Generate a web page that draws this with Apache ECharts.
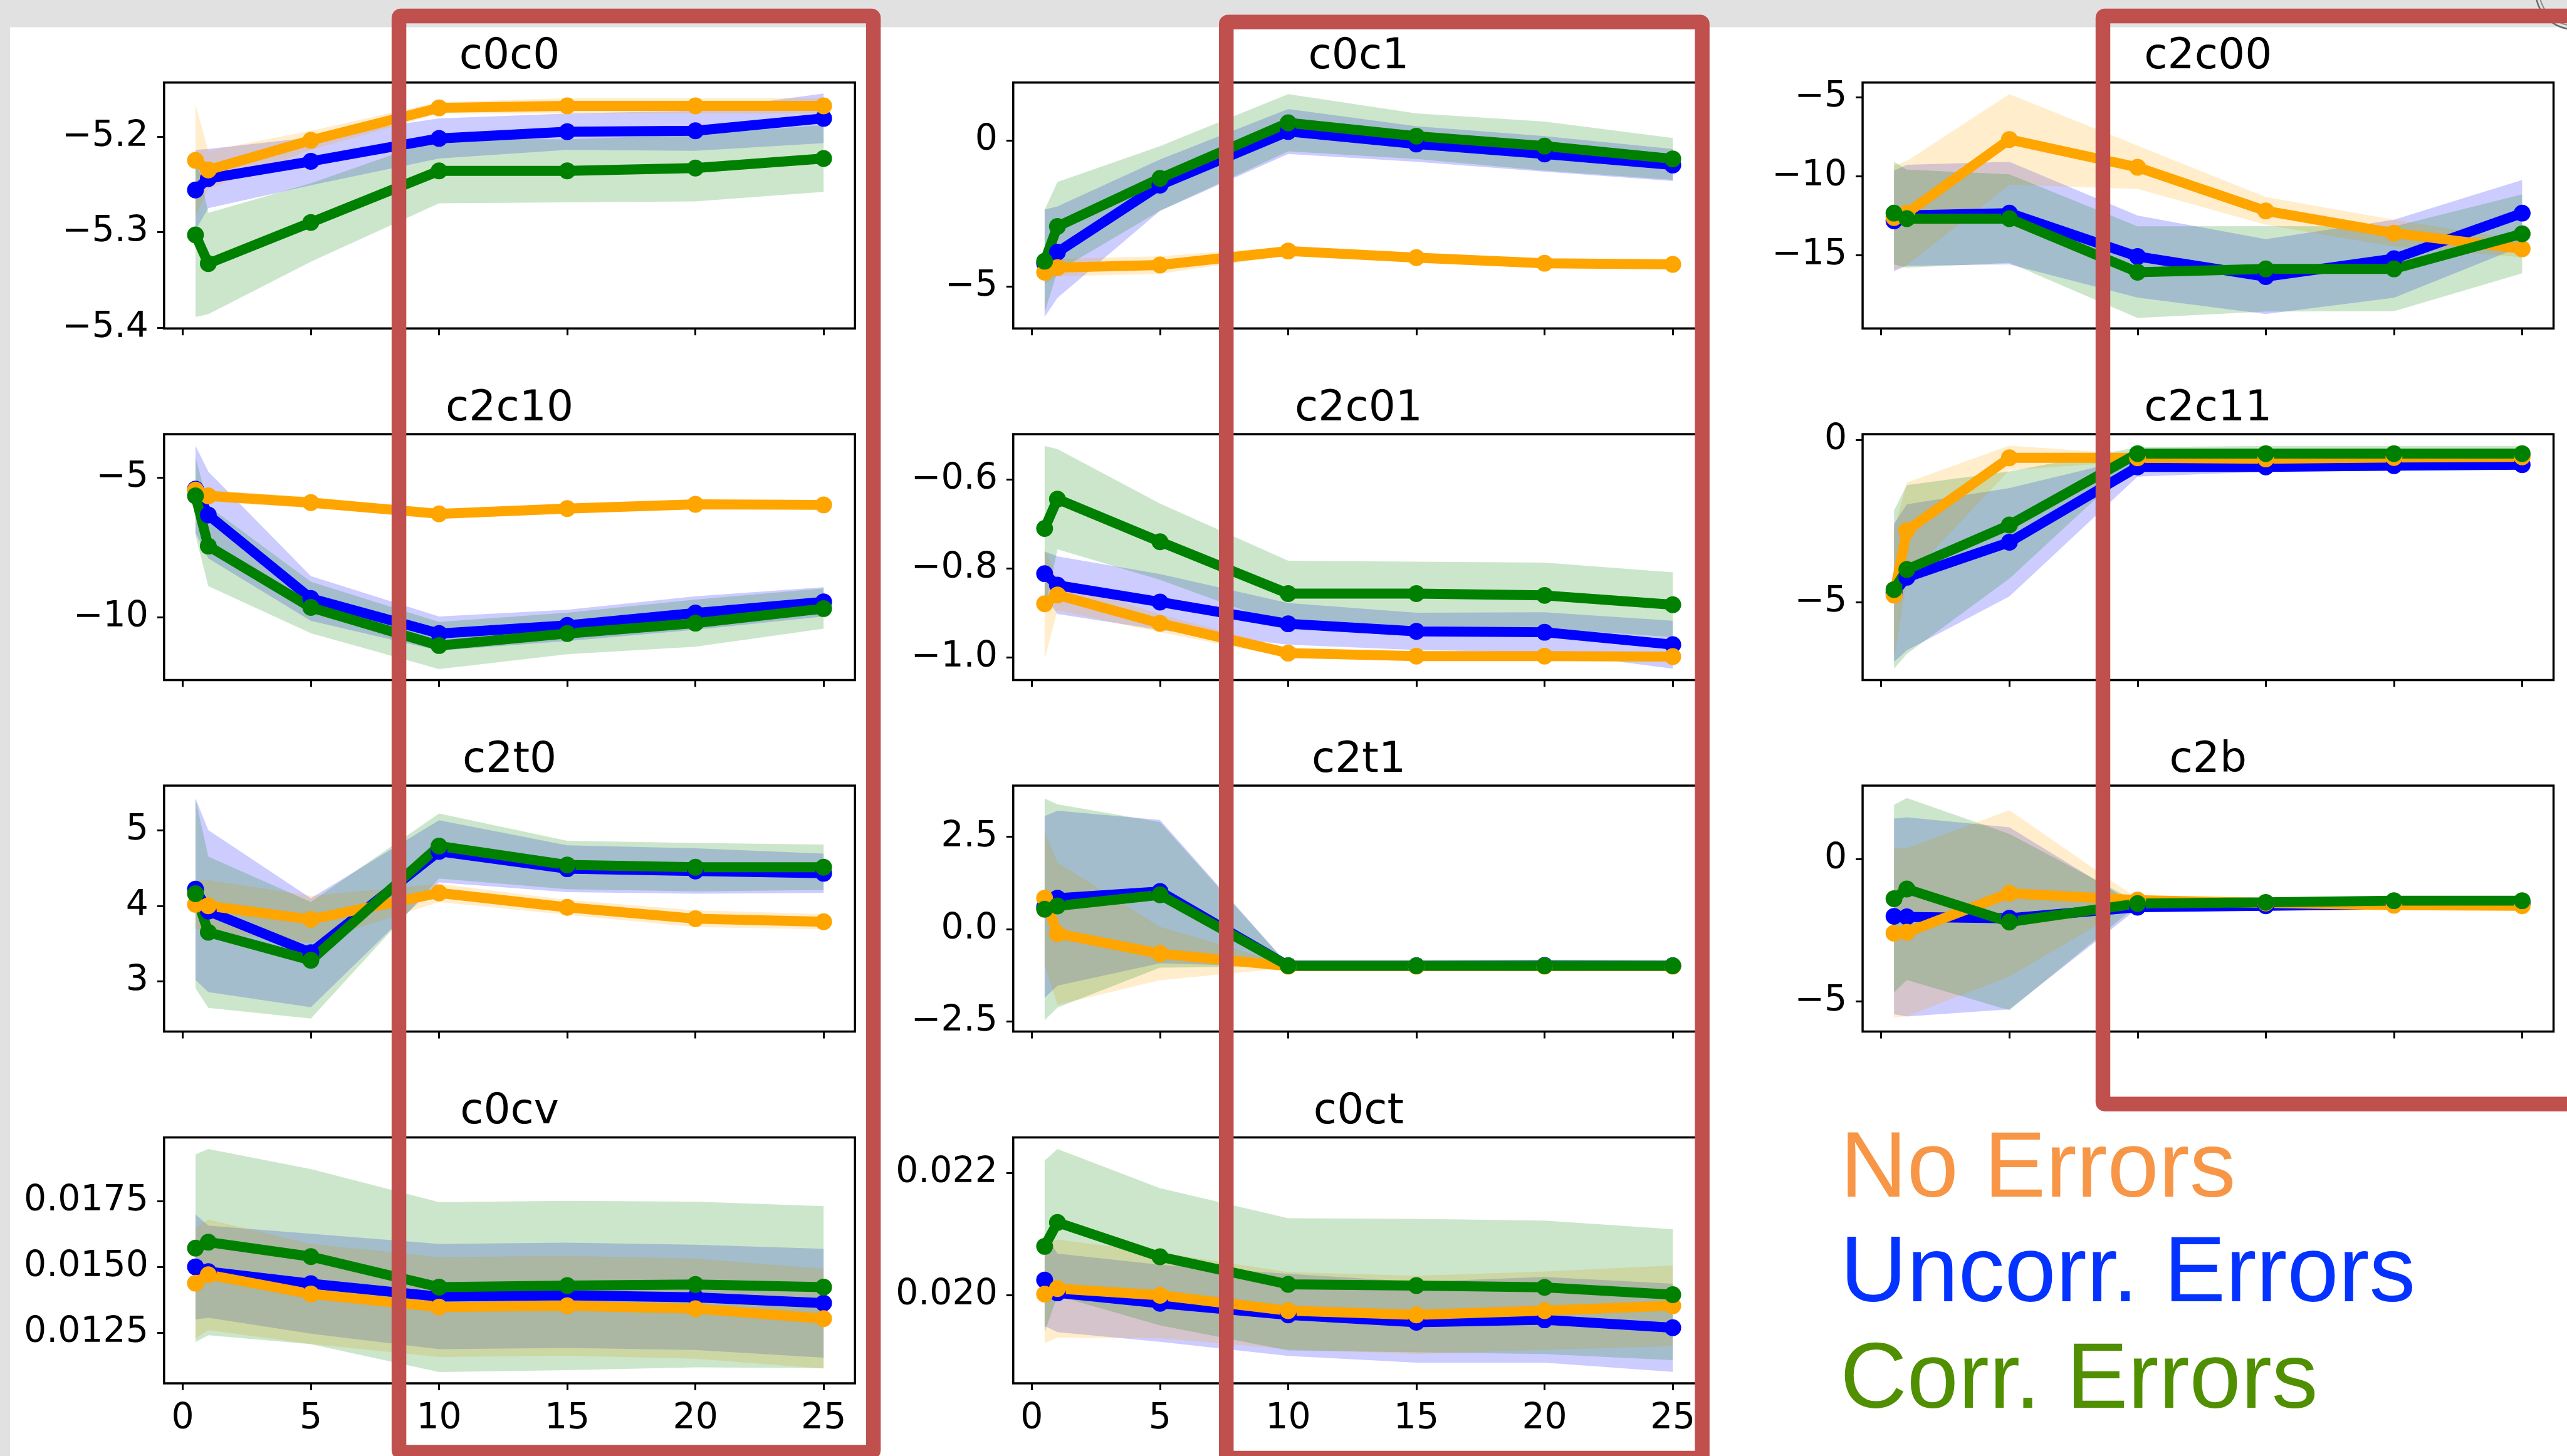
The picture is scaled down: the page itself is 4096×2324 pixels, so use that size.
<!DOCTYPE html>
<html><head><meta charset="utf-8">
<script src="https://cdn.jsdelivr.net/npm/echarts@6/dist/echarts.min.js"></script>
<style>html,body{margin:0;padding:0;background:#fff;overflow:hidden}#c{width:4096px;height:2324px;}</style>
</head><body><div id="c"></div>
<script>
// ---------------- DATA ----------------
const xValues = [0.5, 1, 5, 10, 15, 20, 25];
const xTicks = [0, 5, 10, 15, 20, 25];
const xTickLabels = ['0', '5', '10', '15', '20', '25'];
const seriesNames = ['No Errors', 'Uncorr. Errors', 'Corr. Errors'];

// c0c0
const c0c0_yTicks = [-5.4, -5.3, -5.2];
const c0c0_yLabels = ['\u22125.4', '\u22125.3', '\u22125.2'];
const c0c0_none = [-5.225, -5.235, -5.204, -5.170, -5.168, -5.168, -5.168];
const c0c0_noneErr = [0.058, 0.02, 0.01, 0.006, 0.008, 0.008, 0.008];
const c0c0_unc = [-5.256, -5.244, -5.226, -5.202, -5.195, -5.194, -5.181];
const c0c0_uncErr = [0.042, 0.031, 0.025, 0.021, 0.019, 0.021, 0.026];
const c0c0_cor = [-5.303, -5.333, -5.290, -5.236, -5.236, -5.233, -5.223];
const c0c0_corErr = [0.086, 0.053, 0.041, 0.034, 0.033, 0.035, 0.035];

// c0c1
const c0c1_yTicks = [-5, 0];
const c0c1_yLabels = ['\u22125', '0'];
const c0c1_none = [-4.52, -4.36, -4.27, -3.79, -4.02, -4.21, -4.25];
const c0c1_noneErr = [0.4, 0.3, 0.3, 0.15, 0.1, 0.1, 0.1];
const c0c1_unc = [-4.21, -3.83, -1.53, 0.31, -0.12, -0.46, -0.84];
const c0c1_uncErr = [1.84, 1.57, 0.88, 0.77, 0.61, 0.61, 0.55];
const c0c1_cor = [-4.14, -2.95, -1.30, 0.61, 0.15, -0.19, -0.63];
const c0c1_corErr = [1.76, 1.53, 1.11, 0.98, 0.78, 0.84, 0.72];

// c2c00
const c2c00_yTicks = [-15, -10, -5];
const c2c00_yLabels = ['\u221215', '\u221210', '\u22125'];
const c2c00_none = [-12.6, -12.32, -7.66, -9.42, -12.18, -13.59, -14.58];
const c2c00_noneErr = [3.3, 3.3, 2.87, 1.37, 0.88, 0.85, 0.54];
const c2c00_unc = [-12.81, -12.46, -12.32, -15.07, -16.34, -15.21, -12.32];
const c2c00_uncErr = [3.18, 3.2, 3.25, 2.6, 2.37, 2.47, 2.1];
const c2c00_cor = [-12.32, -12.67, -12.67, -16.06, -15.85, -15.85, -13.63];
const c2c00_corErr = [3.25, 3.1, 2.8, 2.9, 2.7, 2.68, 2.5];

// c2c10
const c2c10_yTicks = [-10, -5];
const c2c10_yLabels = ['\u221210', '\u22125'];
const c2c10_none = [-5.45, -5.66, -5.90, -6.30, -6.11, -5.96, -5.98];
const c2c10_noneErr = [0.25, 0.2, 0.2, 0.1, 0.1, 0.1, 0.1];
const c2c10_unc = [-5.42, -6.34, -9.32, -10.57, -10.28, -9.84, -9.44];
const c2c10_uncErr = [1.55, 1.55, 0.8, 0.61, 0.56, 0.6, 0.52];
const c2c10_cor = [-5.66, -7.45, -9.64, -11.0, -10.57, -10.2, -9.68];
const c2c10_corErr = [1.4, 1.43, 0.92, 0.84, 0.74, 0.84, 0.72];

// c2c01
const c2c01_yTicks = [-1.0, -0.8, -0.6];
const c2c01_yLabels = ['\u22121.0', '\u22120.8', '\u22120.6'];
const c2c01_none = [-0.880, -0.860, -0.924, -0.991, -0.998, -0.998, -0.999];
const c2c01_noneErr = [0.124, 0.035, 0.02, 0.01, 0.01, 0.01, 0.01];
const c2c01_unc = [-0.812, -0.838, -0.876, -0.925, -0.942, -0.944, -0.972];
const c2c01_uncErr = [0.05, 0.065, 0.063, 0.047, 0.042, 0.045, 0.054];
const c2c01_cor = [-0.710, -0.644, -0.740, -0.857, -0.857, -0.861, -0.882];
const c2c01_corErr = [0.186, 0.113, 0.086, 0.074, 0.072, 0.074, 0.073];

// c2c11
const c2c11_yTicks = [-5, 0];
const c2c11_yLabels = ['\u22125', '0'];
const c2c11_none = [-4.79, -2.80, -0.56, -0.56, -0.59, -0.55, -0.53];
const c2c11_noneErr = [2.0, 1.48, 0.38, 0.1, 0.1, 0.1, 0.1];
const c2c11_unc = [-4.72, -4.24, -3.16, -0.84, -0.84, -0.80, -0.77];
const c2c11_uncErr = [2.13, 2.25, 1.67, 0.3, 0.15, 0.15, 0.15];
const c2c11_cor = [-4.62, -4.0, -2.63, -0.43, -0.43, -0.43, -0.43];
const c2c11_corErr = [2.44, 2.6, 1.65, 0.2, 0.24, 0.24, 0.24];

// c2t0
const c2t0_yTicks = [3, 4, 5];
const c2t0_yLabels = ['3', '4', '5'];
const c2t0_none = [4.02, 4.00, 3.82, 4.17, 3.98, 3.83, 3.79];
const c2t0_noneErr = [0.32, 0.34, 0.31, 0.12, 0.1, 0.11, 0.1];
const c2t0_unc = [4.22, 3.93, 3.38, 4.72, 4.49, 4.46, 4.43];
const c2t0_uncErr = [1.2, 1.07, 0.72, 0.41, 0.31, 0.3, 0.26];
const c2t0_cor = [4.16, 3.65, 3.28, 4.79, 4.54, 4.51, 4.51];
const c2t0_corErr = [1.25, 1.0, 0.77, 0.43, 0.32, 0.32, 0.3];

// c2t1
const c2t1_yTicks = [-2.5, 0, 2.5];
const c2t1_yLabels = ['\u22122.5', '0.0', '2.5'];
const c2t1_none = [0.84, -0.12, -0.66, -1.0, -1.0, -1.0, -1.0];
const c2t1_noneErr = [1.8, 1.93, 0.72, 0.05, 0.03, 0.03, 0.03];
const c2t1_unc = [0.60, 0.84, 1.02, -0.99, -0.99, -0.98, -0.99];
const c2t1_uncErr = [2.46, 2.37, 1.94, 0.03, 0.03, 0.03, 0.03];
const c2t1_cor = [0.54, 0.63, 0.93, -0.99, -0.99, -0.99, -0.99];
const c2t1_corErr = [3.0, 2.75, 1.97, 0.02, 0.02, 0.02, 0.02];

// c2b
const c2b_yTicks = [-5, 0];
const c2b_yLabels = ['\u22125', '0'];
const c2b_none = [-2.60, -2.57, -1.20, -1.44, -1.54, -1.62, -1.64];
const c2b_noneErr = [2.97, 2.95, 2.92, 0.05, 0.05, 0.05, 0.05];
const c2b_unc = [-2.01, -2.03, -2.08, -1.69, -1.64, -1.59, -1.56];
const c2b_uncErr = [3.44, 3.5, 3.2, 0.05, 0.05, 0.05, 0.05];
const c2b_cor = [-1.39, -1.05, -2.21, -1.56, -1.52, -1.46, -1.46];
const c2b_corErr = [3.3, 3.2, 3.1, 0.05, 0.05, 0.05, 0.05];

// c0cv
const c0cv_yTicks = [0.0125, 0.0150, 0.0175];
const c0cv_yLabels = ['0.0125', '0.0150', '0.0175'];
const c0cv_none = [0.01438, 0.01470, 0.01397, 0.01347, 0.01352, 0.01341, 0.01303];
const c0cv_noneErr = [0.0021, 0.0021, 0.0019, 0.0019, 0.0019, 0.0019, 0.0019];
const c0cv_unc = [0.01500, 0.01482, 0.01436, 0.01387, 0.01392, 0.01384, 0.01362];
const c0cv_uncErr = [0.0020, 0.00175, 0.0019, 0.0020, 0.0020, 0.0020, 0.00207];
const c0cv_cor = [0.01571, 0.01594, 0.01539, 0.01423, 0.01429, 0.01433, 0.01423];
const c0cv_corErr = [0.00357, 0.00354, 0.00333, 0.00323, 0.00322, 0.00315, 0.00308];

// c0ct
const c0ct_yTicks = [0.020, 0.022];
const c0ct_yLabels = ['0.020', '0.022'];
const c0ct_none = [0.02002, 0.02011, 0.02000, 0.01975, 0.01968, 0.01975, 0.01983];
const c0ct_noneErr = [0.0008, 0.0008, 0.0007, 0.00063, 0.00064, 0.00064, 0.00066];
const c0ct_unc = [0.02025, 0.02004, 0.01987, 0.01968, 0.01956, 0.01960, 0.01947];
const c0ct_uncErr = [0.00075, 0.00064, 0.00063, 0.00067, 0.00066, 0.0007, 0.00072];
const c0ct_cor = [0.02080, 0.02119, 0.02063, 0.02018, 0.02016, 0.02013, 0.02001];
const c0ct_corErr = [0.0014, 0.0012, 0.00112, 0.00108, 0.00109, 0.00109, 0.00107];

// ---------------- LAYOUT (reference pixels) ----------------
const S = 0.997;
const colLeft = [262.6, 1621.6, 2981.0];
const rowTop = [132.1, 695.0, 1257.8, 1821.0];
const PW = 1105.8, PH = 393.7;
const X_MIN = -0.725, X_MAX = 26.225;

const panels = [
  {t:'c0c0', c:0, r:0, ymin:-5.4009, ymax:-5.1435, yt:c0c0_yTicks, yl:c0c0_yLabels, none:c0c0_none, noneErr:c0c0_noneErr, unc:c0c0_unc, uncErr:c0c0_uncErr, cor:c0c0_cor, corErr:c0c0_corErr},
  {t:'c0c1', c:1, r:0, ymin:-6.447, ymax:1.991, yt:c0c1_yTicks, yl:c0c1_yLabels, none:c0c1_none, noneErr:c0c1_noneErr, unc:c0c1_unc, uncErr:c0c1_uncErr, cor:c0c1_cor, corErr:c0c1_corErr},
  {t:'c2c00', c:2, r:0, ymin:-19.62, ymax:-4.054, yt:c2c00_yTicks, yl:c2c00_yLabels, none:c2c00_none, noneErr:c2c00_noneErr, unc:c2c00_unc, uncErr:c2c00_uncErr, cor:c2c00_cor, corErr:c2c00_corErr},
  {t:'c2c10', c:0, r:1, ymin:-12.23, ymax:-3.455, yt:c2c10_yTicks, yl:c2c10_yLabels, none:c2c10_none, noneErr:c2c10_noneErr, unc:c2c10_unc, uncErr:c2c10_uncErr, cor:c2c10_cor, corErr:c2c10_corErr},
  {t:'c2c01', c:1, r:1, ymin:-1.0518, ymax:-0.4974, yt:c2c01_yTicks, yl:c2c01_yLabels, none:c2c01_none, noneErr:c2c01_noneErr, unc:c2c01_unc, uncErr:c2c01_uncErr, cor:c2c01_cor, corErr:c2c01_corErr},
  {t:'c2c11', c:2, r:1, ymin:-7.407, ymax:0.172, yt:c2c11_yTicks, yl:c2c11_yLabels, none:c2c11_none, noneErr:c2c11_noneErr, unc:c2c11_unc, uncErr:c2c11_uncErr, cor:c2c11_cor, corErr:c2c11_corErr},
  {t:'c2t0', c:0, r:2, ymin:2.338, ymax:5.588, yt:c2t0_yTicks, yl:c2t0_yLabels, none:c2t0_none, noneErr:c2t0_noneErr, unc:c2t0_unc, uncErr:c2t0_uncErr, cor:c2t0_cor, corErr:c2t0_corErr},
  {t:'c2t1', c:1, r:2, ymin:-2.771, ymax:3.886, yt:c2t1_yTicks, yl:c2t1_yLabels, none:c2t1_none, noneErr:c2t1_noneErr, unc:c2t1_unc, uncErr:c2t1_uncErr, cor:c2t1_cor, corErr:c2t1_corErr},
  {t:'c2b', c:2, r:2, ymin:-6.061, ymax:2.583, yt:c2b_yTicks, yl:c2b_yLabels, none:c2b_none, noneErr:c2b_noneErr, unc:c2b_unc, uncErr:c2b_uncErr, cor:c2b_cor, corErr:c2b_corErr},
  {t:'c0cv', c:0, r:3, ymin:0.010571, ymax:0.019921, yt:c0cv_yTicks, yl:c0cv_yLabels, none:c0cv_none, noneErr:c0cv_noneErr, unc:c0cv_unc, uncErr:c0cv_uncErr, cor:c0cv_cor, corErr:c0cv_corErr, xl:true},
  {t:'c0ct', c:1, r:3, ymin:0.018562, ymax:0.022579, yt:c0ct_yTicks, yl:c0ct_yLabels, none:c0ct_none, noneErr:c0ct_noneErr, unc:c0ct_unc, uncErr:c0ct_uncErr, cor:c0ct_cor, corErr:c0ct_corErr, xl:true}
];

const LINE = {unc:'#0000ff', none:'#ffa500', cor:'#008000'};
const FILL = {unc:'rgba(0,0,255,0.2)', none:'rgba(255,165,0,0.2)', cor:'rgba(0,128,0,0.2)'};
const TICK_FS = 57, TITLE_FS = 68;
const FONT = '"DejaVu Sans", sans-serif';

const grids = [], xAxes = [], yAxes = [], series = [], graphics = [];

function bandSeries(i, mean, err, fill) {
  const lo = mean.map((m, k) => m - err[k]);
  const hi = mean.map((m, k) => m + err[k]);
  return {
    type: 'custom', xAxisIndex: i, yAxisIndex: i, z: 1, silent: true, animation: false,
    data: xValues.map((x, k) => [x, lo[k], hi[k]]),
    encode: {x: 0, y: [1, 2]},
    renderItem: function (params, api) {
      if (params.dataIndex !== 0) return null;
      const pts = [];
      for (let k = 0; k < xValues.length; k++) pts.push(api.coord([xValues[k], hi[k]]));
      for (let k = xValues.length - 1; k >= 0; k--) pts.push(api.coord([xValues[k], lo[k]]));
      return {type: 'polygon', shape: {points: pts}, style: {fill: fill, stroke: null}};
    }
  };
}
function lineSeries(i, name, vals, color) {
  return {
    type: 'line', name: name, xAxisIndex: i, yAxisIndex: i, z: 2, silent: true, animation: false,
    data: xValues.map((x, k) => [x, vals[k]]),
    symbol: 'circle', symbolSize: 27 * S, showSymbol: true, showAllSymbol: true,
    lineStyle: {color: color, width: 16 * S},
    itemStyle: {color: color, borderWidth: 0},
    emphasis: {disabled: true}, clip: false
  };
}

panels.forEach((p, i) => {
  const left = colLeft[p.c] * S, top = rowTop[p.r] * S;
  grids.push({left: left, top: top, width: PW * S, height: PH * S, show: true,
    borderColor: '#000', borderWidth: 3.5 * S, backgroundColor: 'transparent',
    containLabel: false, outerBoundsMode: 'none'});
  xAxes.push({type: 'value', gridIndex: i, min: X_MIN, max: X_MAX, position: 'bottom',
    axisLine: {show: false, onZero: false}, splitLine: {show: false},
    axisTick: {show: true, customValues: xTicks, length: 11 * S, lineStyle: {color: '#000', width: 3 * S}},
    axisLabel: {show: !!p.xl, customValues: xTicks, margin: 29 * S,
      formatter: v => { const k = xTicks.findIndex(t => Math.abs(t - v) < 1e-9); return k >= 0 ? xTickLabels[k] : ''; },
      fontFamily: FONT, fontSize: TICK_FS * S, color: '#000'}});
  yAxes.push({type: 'value', gridIndex: i, min: p.ymin, max: p.ymax, position: 'left',
    axisLine: {show: false, onZero: false}, splitLine: {show: false},
    axisTick: {show: true, customValues: p.yt, length: 11 * S, lineStyle: {color: '#000', width: 3 * S}},
    axisLabel: {show: true, customValues: p.yt, margin: 25 * S, padding: [10 * S, 0, 0, 0],
      formatter: v => { const k = p.yt.findIndex(t => Math.abs(t - v) < 1e-9); return k >= 0 ? p.yl[k] : ''; },
      fontFamily: FONT, fontSize: TICK_FS * S, color: '#000'}});
  series.push(bandSeries(i, p.unc, p.uncErr, FILL.unc));
  series.push(bandSeries(i, p.none, p.noneErr, FILL.none));
  series.push(bandSeries(i, p.cor, p.corErr, FILL.cor));
  series.push(lineSeries(i, seriesNames[1], p.unc, LINE.unc));
  series.push(lineSeries(i, seriesNames[0], p.none, LINE.none));
  series.push(lineSeries(i, seriesNames[2], p.cor, LINE.cor));
  graphics.push({type: 'text', z: 50, silent: true,
    x: (colLeft[p.c] + PW / 2) * S, y: (rowTop[p.r] - 40) * S,
    style: {text: p.t, fill: '#000', font: (TITLE_FS * S) + 'px ' + FONT, textAlign: 'center', textVerticalAlign: 'middle', verticalAlign: 'middle', align: 'center'}});
});

// page background strips
graphics.push({type: 'rect', z: -10, silent: true, shape: {x: 0, y: 0, width: 4096, height: 43.6 * S}, style: {fill: '#e1e1e1'}});
graphics.push({type: 'rect', z: -10, silent: true, shape: {x: 0, y: 0, width: 16 * S, height: 2324}, style: {fill: '#e1e1e1'}});
graphics.push({type: 'circle', z: 60, silent: true, shape: {cx: 4120 * S, cy: -15 * S, r: 62 * S}, style: {fill: null, stroke: '#6a6a6a', lineWidth: 2.5}});
graphics.push({type: 'circle', z: 60, silent: true, shape: {cx: 4120 * S, cy: -15 * S, r: 56 * S}, style: {fill: null, stroke: '#8a8a8a', lineWidth: 2}});

// highlight rectangles
const RED = '#C0504D';
[[638.5, 25.5, 1397.8, 2325], [1962.6, 35.2, 2724.3, 2334.5], [3365.6, 25.5, 4140, 1767.5]].forEach(b => {
  graphics.push({type: 'rect', z: 100, silent: true,
    shape: {x: b[0] * S, y: b[1] * S, width: (b[2] - b[0]) * S, height: (b[3] - b[1]) * S, r: 3},
    style: {fill: null, stroke: RED, lineWidth: 23.5 * S, lineJoin: 'round'}});
});

// legend text
const LEG_FS = 148;
const legend = [[seriesNames[0], '#F79646', 1916.5], [seriesNames[1], '#0433FF', 2083.7], [seriesNames[2], '#4F8F00', 2254]];
legend.forEach(l => {
  graphics.push({type: 'text', z: 50, silent: true, x: 2945 * S, y: (l[2] - 0.346 * LEG_FS + 10) * S,
    style: {text: l[0], fill: l[1], font: (LEG_FS * S) + 'px "Liberation Sans", Arial, sans-serif', textAlign: 'left', align: 'left', textVerticalAlign: 'middle', verticalAlign: 'middle'}});
});

const chart = echarts.init(document.getElementById('c'), null, {renderer: 'canvas', width: 4096, height: 2324});
chart.setOption({
  backgroundColor: '#ffffff',
  animation: false,
  grid: grids, xAxis: xAxes, yAxis: yAxes, series: series,
  graphic: {elements: graphics}
});
</script></body></html>
